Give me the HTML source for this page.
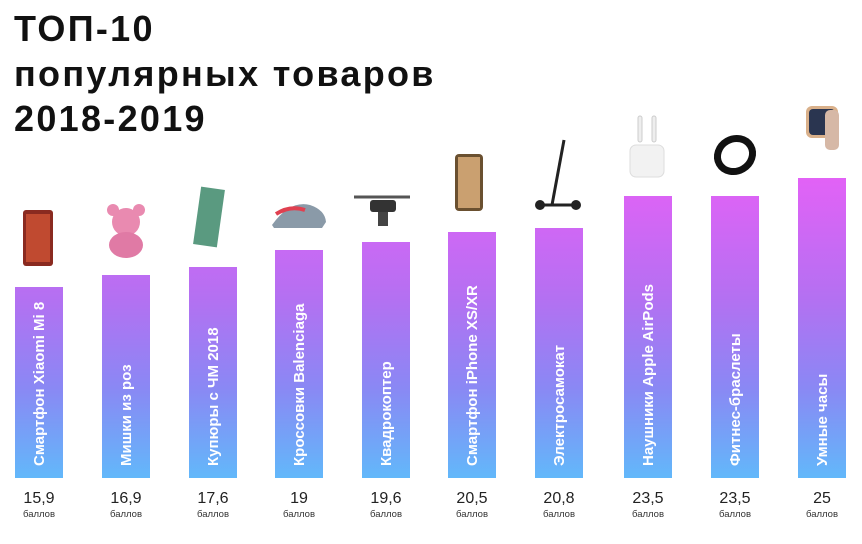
<!DOCTYPE html>
<html><head><meta charset="utf-8"><style>
body{margin:0;background:#fff;width:862px;height:539px;overflow:hidden;font-family:"Liberation Sans",sans-serif}
</style></head><body>
<svg width="862" height="539" xmlns="http://www.w3.org/2000/svg" font-family="Liberation Sans, sans-serif">
<defs>
<linearGradient id="g" gradientUnits="userSpaceOnUse" x1="0" y1="178" x2="0" y2="478">
<stop offset="0" stop-color="#e262f6"/><stop offset="0.4" stop-color="#b470f2"/><stop offset="0.7" stop-color="#8a88f4"/><stop offset="1" stop-color="#62b8fa"/>
</linearGradient>
</defs>
<g font-weight="bold" font-size="36" fill="#111" letter-spacing="2.3">
<text x="14" y="41">ТОП-10</text>
<text x="14" y="86">популярных товаров</text>
<text x="14" y="131">2018-2019</text>
</g>
<g fill="url(#g)">
<rect x="15" y="287" width="48" height="191"/>
<rect x="102" y="275" width="48" height="203"/>
<rect x="189" y="267" width="48" height="211"/>
<rect x="275" y="250" width="48" height="228"/>
<rect x="362" y="242" width="48" height="236"/>
<rect x="448" y="232" width="48" height="246"/>
<rect x="535" y="228" width="48" height="250"/>
<rect x="624" y="196" width="48" height="282"/>
<rect x="711" y="196" width="48" height="282"/>
<rect x="798" y="178" width="48" height="300"/>
</g>
<g fill="#fff" font-weight="bold" font-size="15">
<text transform="translate(44,466) rotate(-90)">Смартфон Xiaomi Mi 8</text>
<text transform="translate(131,466) rotate(-90)">Мишки из роз</text>
<text transform="translate(218,466) rotate(-90)">Купюры с ЧМ 2018</text>
<text transform="translate(304,466) rotate(-90)">Кроссовки Balenciaga</text>
<text transform="translate(391,466) rotate(-90)">Квадрокоптер</text>
<text transform="translate(477,466) rotate(-90)">Смартфон iPhone XS/XR</text>
<text transform="translate(564,466) rotate(-90)">Электросамокат</text>
<text transform="translate(653,466) rotate(-90)">Наушники Apple AirPods</text>
<text transform="translate(740,466) rotate(-90)">Фитнес-браслеты</text>
<text transform="translate(827,466) rotate(-90)">Умные часы</text>
</g>
<g fill="#222" text-anchor="middle" font-size="16">
<text x="39" y="503">15,9</text><text x="126" y="503">16,9</text><text x="213" y="503">17,6</text>
<text x="299" y="503">19</text><text x="386" y="503">19,6</text><text x="472" y="503">20,5</text>
<text x="559" y="503">20,8</text><text x="648" y="503">23,5</text><text x="735" y="503">23,5</text><text x="822" y="503">25</text>
</g>
<g fill="#333" text-anchor="middle" font-size="9.5">
<text x="39" y="517">баллов</text><text x="126" y="517">баллов</text><text x="213" y="517">баллов</text>
<text x="299" y="517">баллов</text><text x="386" y="517">баллов</text><text x="472" y="517">баллов</text>
<text x="559" y="517">баллов</text><text x="648" y="517">баллов</text><text x="735" y="517">баллов</text><text x="822" y="517">баллов</text>
</g>
<!-- icons -->
<rect x="23" y="210" width="30" height="56" rx="3" fill="#8a2a20"/><rect x="26" y="214" width="24" height="48" fill="#c04a30"/>
<circle cx="126" cy="222" r="14" fill="#e98ab0"/><circle cx="113" cy="210" r="6" fill="#e98ab0"/><circle cx="139" cy="210" r="6" fill="#e98ab0"/><ellipse cx="126" cy="245" rx="17" ry="13" fill="#e07aa5"/>
<rect x="197" y="188" width="24" height="58" fill="#5a9a80" transform="rotate(8 209 217)"/>
<path d="M272 225 Q290 200 310 205 Q325 210 326 222 L322 228 L274 228 Z" fill="#8a9aa8"/><path d="M276 214 Q290 205 305 210" stroke="#e04050" stroke-width="4" fill="none"/>
<rect x="370" y="200" width="26" height="12" rx="3" fill="#333"/><line x1="354" y1="197" x2="410" y2="197" stroke="#555" stroke-width="3"/><rect x="378" y="212" width="10" height="14" fill="#444"/>
<rect x="455" y="154" width="28" height="57" rx="4" fill="#6a5030"/><rect x="458" y="157" width="22" height="51" fill="#caa070"/>
<line x1="564" y1="140" x2="552" y2="205" stroke="#222" stroke-width="3"/><line x1="540" y1="205" x2="576" y2="205" stroke="#222" stroke-width="3"/><circle cx="540" cy="205" r="5" fill="#222"/><circle cx="576" cy="205" r="5" fill="#222"/>
<rect x="630" y="145" width="34" height="32" rx="6" fill="#f2f2f2" stroke="#ddd"/><rect x="638" y="116" width="4" height="26" rx="2" fill="#eee" stroke="#ccc"/><rect x="652" y="116" width="4" height="26" rx="2" fill="#eee" stroke="#ccc"/>
<ellipse cx="735" cy="155" rx="18" ry="16" fill="none" stroke="#111" stroke-width="7" transform="rotate(-30 735 155)"/>
<rect x="806" y="106" width="32" height="32" rx="6" fill="#d9b08a"/><rect x="809" y="109" width="26" height="26" rx="4" fill="#2a3550"/><rect x="825" y="110" width="14" height="40" rx="5" fill="#d6b8a6"/>
</svg>
</body></html>
